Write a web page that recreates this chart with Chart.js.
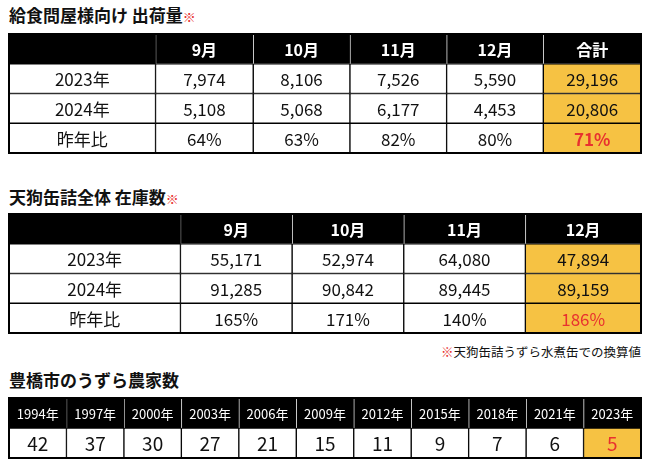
<!DOCTYPE html>
<html><head><meta charset="utf-8">
<script src="https://cdn.jsdelivr.net/npm/chart.js@4"></script>
<style>
body{margin:0;width:650px;height:466px;background:#fff;position:relative;font-family:"Noto Sans CJK JP",sans-serif;overflow:hidden}
.t{position:absolute;left:9px;font-weight:bold;font-size:17px;color:#111;line-height:1}
.r{color:#e8312f;font-size:13px}
.box{position:absolute;left:8px;width:634px}
.note{position:absolute;right:9px;top:342px;font-size:12.5px;color:#111}
</style></head><body>
<div class="t" style="top:6px">給食問屋様向け 出荷量<span class="r">※</span></div>
<div class="box" style="top:33px;height:121px"><canvas id="c1"></canvas></div>
<div class="t" style="top:188px">天狗缶詰全体 在庫数<span class="r">※</span></div>
<div class="box" style="top:213px;height:121px"><canvas id="c2"></canvas></div>
<div class="note"><span style="color:#e8312f">※</span>天狗缶詰うずら水煮缶での換算値</div>
<div class="t" style="top:371px">豊橋市のうずら農家数</div>
<div class="box" style="top:397px;height:62px"><canvas id="c3"></canvas></div>
<script>
// 表1: 給食問屋様向け 出荷量
const ship_cols = ["", "9月", "10月", "11月", "12月", "合計"];
const ship_rows = ["2023年", "2024年", "昨年比"];
const ship_2023 = ["7,974", "8,106", "7,526", "5,590", "29,196"];
const ship_2024 = ["5,108", "5,068", "6,177", "4,453", "20,806"];
const ship_ratio = ["64%", "63%", "82%", "80%", "71%"];

// 表2: 天狗缶詰全体 在庫数
const stock_cols = ["", "9月", "10月", "11月", "12月"];
const stock_rows = ["2023年", "2024年", "昨年比"];
const stock_2023 = ["55,171", "52,974", "64,080", "47,894"];
const stock_2024 = ["91,285", "90,842", "89,445", "89,159"];
const stock_ratio = ["165%", "171%", "140%", "186%"];

// 表3: 豊橋市のうずら農家数
const farm_years = ["1994年","1997年","2000年","2003年","2006年","2009年","2012年","2015年","2018年","2021年","2023年"];
const farm_counts = ["42","37","30","27","21","15","11","9","7","6","5"];

const ORANGE = "#f6c243", RED = "#e8312f";

function makeTable(id, header, body, widths, opt) {
  const rows = [header].concat(body);          // 各行はセル文字列の配列
  const labels = rows.map((r, i) => "r" + i);
  const edges = [0];
  widths.forEach(w => edges.push(edges[edges.length - 1] + w));
  const datasets = widths.map((w, c) => ({
    data: rows.map(() => [edges[c], edges[c + 1]]),
    texts: rows.map(r => r[c]),
    backgroundColor: ctx => ctx.dataIndex === 0 ? "#000" :
      (c === widths.length - 1 ? ORANGE : "#fff"),
    borderColor: ctx => ctx.dataIndex === 0 ? "#fff" : "#000",
    borderWidth: ctx => ctx.dataIndex === 0 ? {left: c ? 1 : 0, right: 0, top: 0, bottom: 0} : 1,
    borderSkipped: false,
    grouped: false,
    categoryPercentage: 1, barPercentage: 1
  }));
  new Chart(document.getElementById(id), {
    type: "bar",
    data: {labels, datasets},
    options: {
      indexAxis: "y", animation: false, responsive: true, maintainAspectRatio: false,
      layout: {padding: 1},
      scales: {
        x: {display: false, min: 0, max: edges[edges.length - 1]},
        y: {display: false}
      },
      plugins: {legend: {display: false}, tooltip: {enabled: false}}
    },
    plugins: [{
      id: "cells",
      afterDatasetsDraw(chart) {
        const g = chart.ctx;
        g.save();
        g.textAlign = "center"; g.textBaseline = "middle";
        chart.data.datasets.forEach((ds, c) => {
          chart.getDatasetMeta(c).data.forEach((el, r) => {
            const last = c === widths.length - 1;
            const hl = last && r === rows.length - 1;
            let size = r === 0 ? opt.head : opt.body;
            let weight = (r === 0 && opt.boldHead) || (hl && opt.boldHl) ? "bold " : "";
            g.font = weight + size + 'px "Noto Sans CJK JP", sans-serif';
            g.fillStyle = r === 0 ? "#fff" : (hl ? RED : "#111");
            g.fillText(ds.texts[r], (el.x + el.base) / 2, el.y + 1);
          });
        });
        const a = chart.chartArea;
        g.lineWidth = 2; g.strokeStyle = "#000";
        g.strokeRect(a.left, a.top, a.right - a.left, a.bottom - a.top);
        g.restore();
      }
    }]
  });
}

makeTable("c1", ship_cols,
  [[ship_rows[0]].concat(ship_2023), [ship_rows[1]].concat(ship_2024), [ship_rows[2]].concat(ship_ratio)],
  [147, 98, 97, 97, 97, 98], {head: 16, body: 17, boldHead: true, boldHl: true});
makeTable("c2", stock_cols,
  [[stock_rows[0]].concat(stock_2023), [stock_rows[1]].concat(stock_2024), [stock_rows[2]].concat(stock_ratio)],
  [172, 112, 112, 122, 116], {head: 16, body: 17, boldHead: true, boldHl: false});
makeTable("c3", farm_years, [farm_counts],
  farm_years.map(() => 1), {head: 13, body: 19, boldHead: false, boldHl: false});
</script>
</body></html>
